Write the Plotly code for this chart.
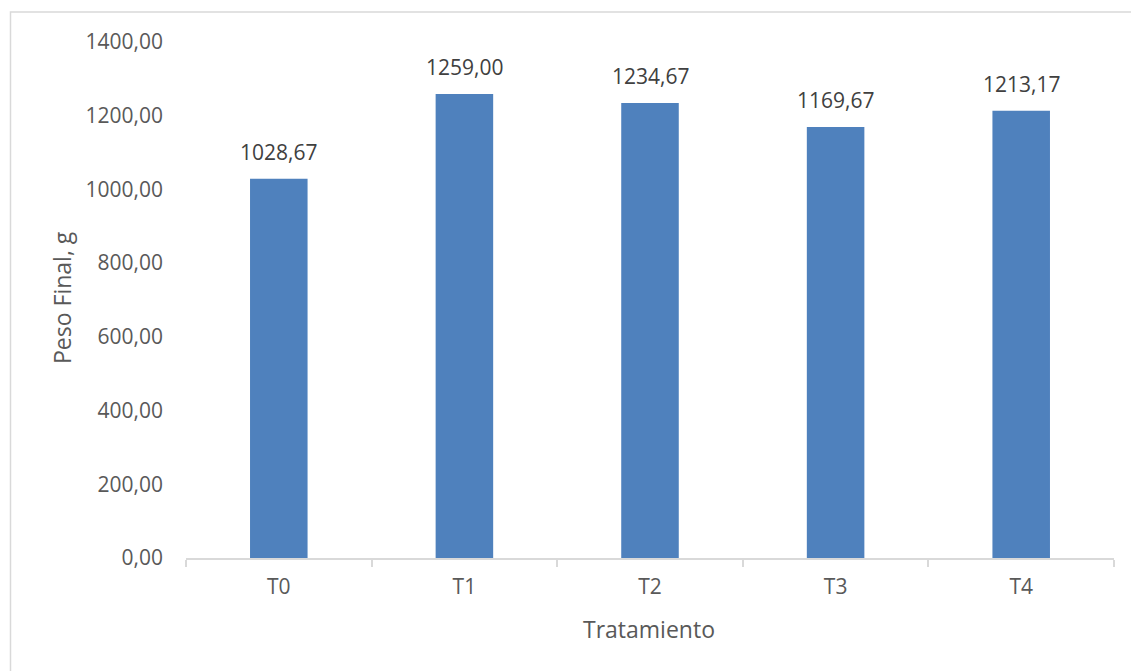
import plotly.graph_objects as go

# Final weight per treatment
tratamientos = ["T0", "T1", "T2", "T3", "T4"]
peso_final = [1028.67, 1259.00, 1234.67, 1169.67, 1213.17]
y_ticks = [0, 200, 400, 600, 800, 1000, 1200, 1400]

W, H = 1131, 671
ML, MR, MT, MB = 186, 17, 42, 113
PW, PH = W - ML - MR, H - MT - MB

FONT = "Open Sans"
TXT = "#595959"
LBL = "#404040"
AXIS = "#d9d9d9"


def fmt(v):
    return f"{v:.2f}".replace(".", ",")


fig = go.Figure(
    go.Bar(
        x=tratamientos,
        y=peso_final,
        marker=dict(color="#4F81BD", line=dict(width=0)),
        hoverinfo="skip",
    )
)

# value labels above each bar
for t, v in zip(tratamientos, peso_final):
    fig.add_annotation(
        x=t, y=v, text=fmt(v), showarrow=False,
        yanchor="bottom", yshift=11,
        font=dict(family=FONT, size=21, color=LBL),
    )


def px_x(p):
    return (p - ML) / PW


def px_y(p):
    return (H - MB - p) / PH


# axis titles
fig.add_annotation(
    x=px_x(62), y=px_y(298), xref="paper", yref="paper",
    text="Peso Final, g", textangle=-90, showarrow=False,
    xanchor="center", yanchor="middle",
    font=dict(family=FONT, size=23, color=TXT),
)
fig.add_annotation(
    x=px_x(649), y=px_y(629), xref="paper", yref="paper",
    text="Tratamiento", showarrow=False,
    xanchor="center", yanchor="middle",
    font=dict(family=FONT, size=23, color=TXT),
)

# chart-area border
fig.add_shape(
    type="rect", xref="paper", yref="paper",
    x0=px_x(10.5), x1=px_x(1140), y0=px_y(690), y1=px_y(12),
    line=dict(color=AXIS, width=1.5), fillcolor="rgba(0,0,0,0)", layer="below",
)

fig.update_layout(
    width=W, height=H,
    margin=dict(l=ML, r=MR, t=MT, b=MB, pad=0),
    paper_bgcolor="white", plot_bgcolor="white",
    separators=",.",
    bargap=0.69,
    showlegend=False,
    font=dict(family=FONT, size=21, color=TXT),
    xaxis=dict(
        type="category",
        range=[-0.5, 4.5],
        showline=True, linecolor=AXIS, linewidth=1.5,
        ticks="outside", tickson="boundaries", ticklen=7, tickcolor=AXIS, tickwidth=1.5,
        showgrid=False, zeroline=False,
        tickfont=dict(family=FONT, size=21, color=TXT),
        ticklabelstandoff=9,
    ),
    yaxis=dict(
        range=[0, 1400],
        tickvals=y_ticks,
        ticktext=[fmt(v) for v in y_ticks],
        showline=False, showgrid=False, zeroline=False,
        ticks="",
        tickfont=dict(family=FONT, size=21, color=TXT),
        ticklabelstandoff=22,
    ),
)

fig.write_html("out.html")
